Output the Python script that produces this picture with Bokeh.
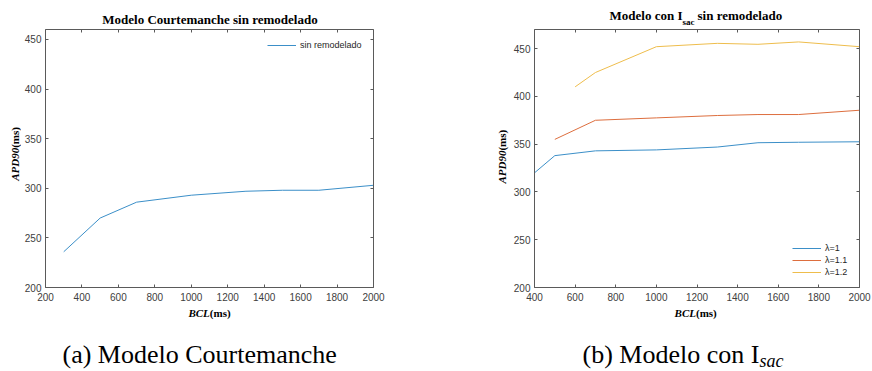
import math

from bokeh.plotting import figure
from bokeh.models import (Range1d, LinearAxis, FixedTicker, Label, Legend,
                          LegendItem, CustomJSTickFormatter)
from bokeh.layouts import row, column
from bokeh.embed import file_html
from bokeh.resources import INLINE

# --- data -------------------------------------------------------------
# (a) Courtemanche model without remodelling
bcl_a = [300, 500, 700, 1000, 1300, 1500, 1700, 2000]
apd_a = [236, 270, 286, 293, 297, 298, 298, 303]

# (b) model with I_sac, three stretch values
bcl_l10 = [400, 500, 700, 1000, 1300, 1500, 1700, 2000]
apd_l10 = [320, 338, 343, 344, 347, 351.5, 352, 352.5]
bcl_l11 = [500, 700, 1000, 1300, 1500, 1700, 2000]
apd_l11 = [355, 375, 377.5, 380, 381, 381, 385.5]
bcl_l12 = [600, 700, 1000, 1300, 1500, 1700, 2000]
apd_l12 = [410, 425, 452, 455.5, 454.5, 457, 452]

labels_b = ["λ=1", "λ=1.1", "λ=1.2"]

xticks_a = [200, 400, 600, 800, 1000, 1200, 1400, 1600, 1800, 2000]
xticks_b = [400, 600, 800, 1000, 1200, 1400, 1600, 1800, 2000]
yticks = [200, 250, 300, 350, 400, 450]

# --- styling ----------------------------------------------------------
BLUE = "#3b8fc8"
ORANGE = "#dd6e3e"
YELLOW = "#eebd4c"
AX = "#5a5a5a"
TICK_TXT = "#404040"
SERIF = "Liberation Serif"
SANS = "Liberation Sans"

PANEL_W = 436
TITLE_H = 28          # strip holding the panel title
PLOT_H = 277          # plot figure: 1 px top border, 258 px frame, 18 px below
BOTTOM_H = 66         # strip holding the x label and the caption


def make_plot(width, left, right, xr, yr, xt):
    p = figure(width=width, height=PLOT_H, output_backend="svg",
               toolbar_location=None, title=None,
               x_range=Range1d(*xr), y_range=Range1d(*yr),
               x_axis_location=None, y_axis_location=None,
               min_border_left=left, min_border_right=right,
               min_border_top=1, min_border_bottom=18)
    p.grid.visible = False
    p.outline_line_color = None
    for loc, ticks in (("below", xt), ("above", xt), ("left", yticks), ("right", yticks)):
        ax = LinearAxis(ticker=FixedTicker(ticks=ticks))
        ax.axis_line_color = AX
        ax.axis_line_width = 1
        ax.major_tick_line_color = AX
        ax.major_tick_in = 3
        ax.major_tick_out = 0
        ax.minor_tick_line_color = None
        if loc in ("below", "left"):
            ax.major_label_text_font = SANS
            ax.major_label_text_font_size = "10px"
            ax.major_label_text_color = TICK_TXT
            ax.major_label_standoff = 5 if loc == "below" else 4
        else:
            ax.formatter = CustomJSTickFormatter(code="return ''")
            ax.major_label_text_font_size = "1px"
            ax.major_label_text_color = None
            ax.major_label_standoff = 0
        p.add_layout(ax, loc)
    return p


class TextStrip:
    """A blank figure whose frame fills it; texts are placed in page pixels
    by the vertical centre of their line box."""

    def __init__(self, x0, y0, w, h):
        self.x0, self.y0, self.h = x0, y0, h
        self.fig = figure(width=w, height=h, output_backend="svg",
                          toolbar_location=None, title=None,
                          x_range=Range1d(0, w), y_range=Range1d(0, h),
                          x_axis_location=None, y_axis_location=None,
                          min_border=0)
        self.fig.grid.visible = False
        self.fig.outline_line_color = None

    def put(self, X, Y, text, size, style="normal", align="left",
            angle=0.0, font=SERIF, color="#000000"):
        self.fig.add_layout(Label(x=X - self.x0, y=self.y0 + self.h - Y,
                                  text=text, text_font=font,
                                  text_font_size=f"{size}px",
                                  text_font_style=style, text_align=align,
                                  text_baseline="middle", angle=angle,
                                  text_color=color))


def style_legend(leg):
    leg.label_text_font = SANS
    leg.label_text_font_size = "9px"
    leg.label_text_color = "#262626"
    leg.glyph_width = 29
    leg.glyph_height = 12
    leg.label_height = 12
    leg.label_standoff = 4
    leg.spacing = 0
    leg.padding = 9
    leg.margin = 0
    leg.border_line_color = None
    leg.background_fill_alpha = 0


Y_PLOT = TITLE_H
Y_BOTTOM = TITLE_H + PLOT_H

# --- (a) --------------------------------------------------------------
XA = 0
YLAB_A = 21
p1 = make_plot(PANEL_W - YLAB_A, 24, 63, (200, 2000), (200, 460), xticks_a)
r_a = p1.line(bcl_a, apd_a, line_color=BLUE, line_width=1)
leg1 = Legend(items=[LegendItem(label="sin remodelado", renderers=[r_a])],
              location=(222, 236))
style_legend(leg1)
p1.add_layout(leg1)

title_a = TextStrip(XA, 0, PANEL_W, TITLE_H)
title_a.put(209.5, 19, "Modelo Courtemanche sin remodelado", 13, "bold", "center")

ylab_a = TextStrip(XA, Y_PLOT, YLAB_A, PLOT_H)
ylab_a.put(14.5, 155, "APD90", 11, "bold italic", "right", math.pi / 2)
ylab_a.put(14.5, 155, "(ms)", 11, "bold", "left", math.pi / 2)

bottom_a = TextStrip(XA, Y_BOTTOM, PANEL_W, BOTTOM_H)
bottom_a.put(209.3, 312.5, "BCL", 11, "bold italic", "right")
bottom_a.put(209.3, 312.5, "(ms)", 11, "bold", "left")
bottom_a.put(62, 353.5, "(a) Modelo Courtemanche", 26)

panel_a = column(title_a.fig, row(ylab_a.fig, p1), bottom_a.fig)

# --- (b) --------------------------------------------------------------
XB = PANEL_W
YLAB_B = 74
p2 = make_plot(PANEL_W - YLAB_B, 22, 13, (400, 2000), (200, 470), xticks_b)
r1 = p2.line(bcl_l10, apd_l10, line_color=BLUE, line_width=1)
r2 = p2.line(bcl_l11, apd_l11, line_color=ORANGE, line_width=1)
r3 = p2.line(bcl_l12, apd_l12, line_color=YELLOW, line_width=1)
leg2 = Legend(items=[LegendItem(label=lab, renderers=[r])
                     for lab, r in zip(labels_b, (r1, r2, r3))],
              location=(258, 9))
style_legend(leg2)
p2.add_layout(leg2)

title_b = TextStrip(XB, 0, PANEL_W, TITLE_H)
title_b.put(682, 14.8, "Modelo con I", 13, "bold", "right")
title_b.put(682, 21, "sac", 9, "bold", "left")
title_b.put(697, 14.8, "sin remodelado", 13, "bold", "left")

ylab_b = TextStrip(XB, Y_PLOT, YLAB_B, PLOT_H)
ylab_b.put(501, 158, "APD90", 11, "bold italic", "right", math.pi / 2)
ylab_b.put(501, 158, "(ms)", 11, "bold", "left", math.pi / 2)

bottom_b = TextStrip(XB, Y_BOTTOM, PANEL_W, BOTTOM_H)
bottom_b.put(695.5, 312.5, "BCL", 11, "bold italic", "right")
bottom_b.put(695.5, 312.5, "(ms)", 11, "bold", "left")
bottom_b.put(582, 353.5, "(b) Modelo con I", 26)
bottom_b.put(759, 360, "sac", 18, "italic")

panel_b = column(title_b.fig, row(ylab_b.fig, p2), bottom_b.fig)

layout = row(panel_a, panel_b)
open("out.html", "w").write(file_html(layout, INLINE))
